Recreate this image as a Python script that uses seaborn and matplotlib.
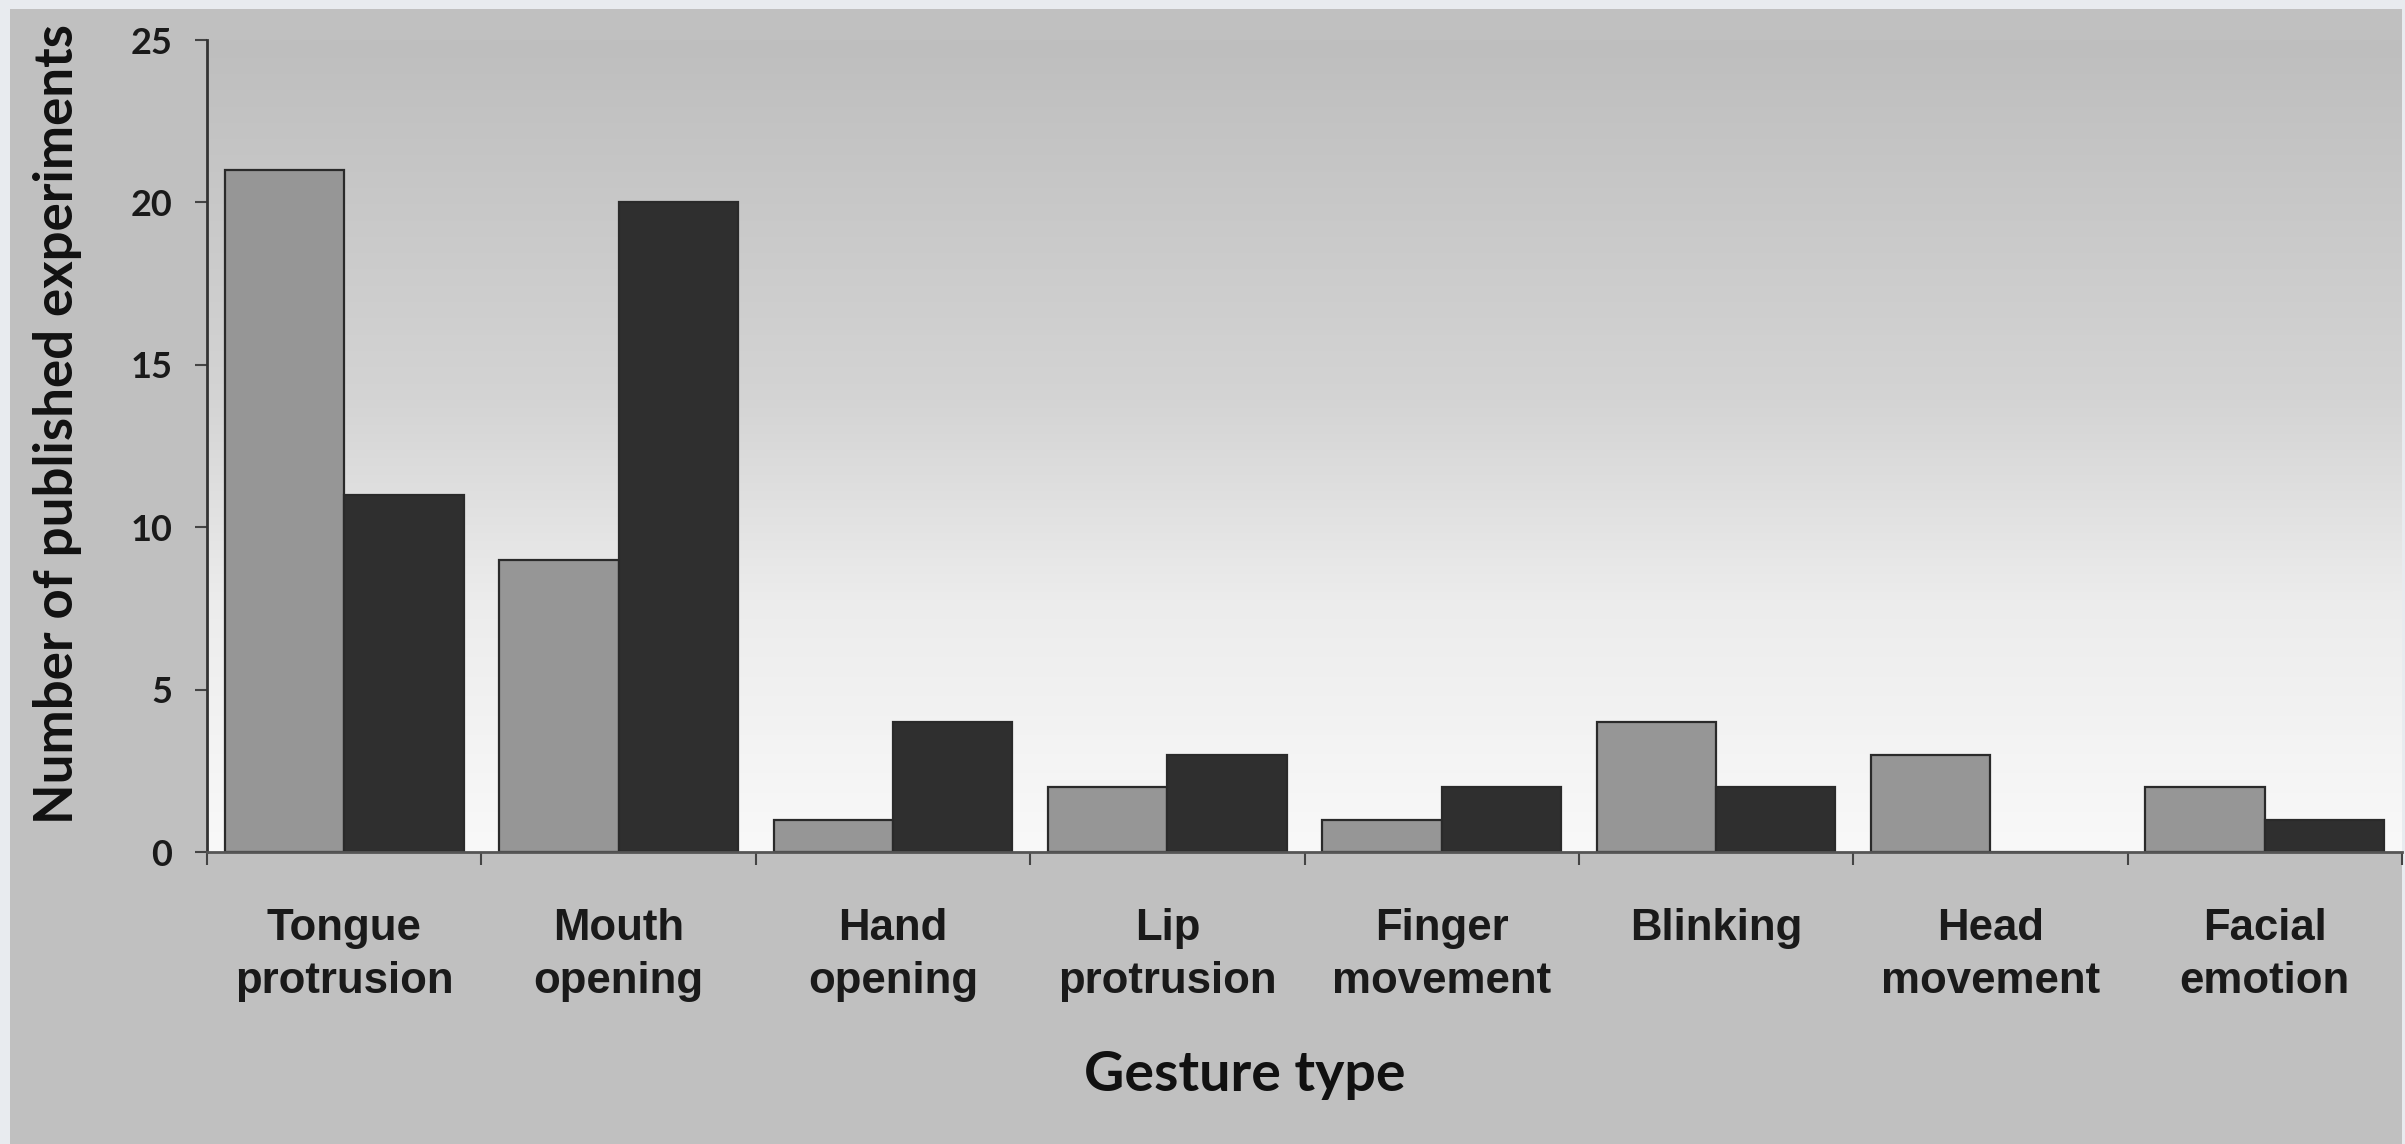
import numpy as np
import pandas as pd
import matplotlib
matplotlib.use("Agg")
import matplotlib.pyplot as plt
from matplotlib.patches import Rectangle
import seaborn as sns

# values
gestures = ["Tongue\nprotrusion", "Mouth\nopening", "Hand\nopening", "Lip\nprotrusion",
            "Finger\nmovement", "Blinking", "Head\nmovement", "Facial\nemotion"]
light_counts = [21, 9, 1, 2, 1, 4, 3, 2]
dark_counts = [11, 20, 4, 3, 2, 2, 0, 1]
series_names = ["series A", "series B"]
y_ticks = [0, 5, 10, 15, 20, 25]

df = pd.DataFrame({
    "gesture": gestures * 2,
    "count": light_counts + dark_counts,
    "series": [series_names[0]] * len(gestures) + [series_names[1]] * len(gestures),
})

W, H = 2405, 1144
fig = plt.figure(figsize=(W / 100, H / 100), dpi=100)
fig.patch.set_facecolor("#e8ebef")
fig.add_artist(Rectangle((10 / W, 0), (2402 - 10) / W, (H - 9) / H,
                         transform=fig.transFigure, facecolor="#c0c0c0",
                         edgecolor="none", zorder=0))

ax = fig.add_axes([207 / W, 292 / H, 2195 / W, 812 / H])
ax.set_facecolor("none")

# vertical gradient of the plot area
rows = np.linspace(40, 852, 400)
shade = np.interp(rows, [40, 400, 600, 852], [190, 212, 236, 249]) / 255
grad = np.repeat(shade[:, None, None], 3, axis=2)
ax.imshow(grad, extent=[0, 1, 0, 1], transform=ax.transAxes, aspect="auto", zorder=0)

sns.barplot(data=df, x="gesture", y="count", hue="series",
            palette=["#969696", "#2f2f2f"], width=0.87,
            edgecolor="#2a2a2a", linewidth=1.6, legend=False, ax=ax)

ax.set_xlim(-0.5, 7.46)
ax.set_ylim(0, 25)
ax.set_yticks(y_ticks)
ax.set_xticks(range(len(gestures)))
ax.set_xticks(np.arange(-0.5, 8, 1), minor=True)

for s in ["top", "right"]:
    ax.spines[s].set_visible(False)
ax.spines["left"].set_color("#333333")
ax.spines["left"].set_linewidth(2)
ax.spines["bottom"].set_color("#555555")
ax.spines["bottom"].set_linewidth(2)

ax.tick_params(axis="x", which="major", length=0, pad=40)
ax.tick_params(axis="x", which="minor", length=9, width=1.5, color="#444444")
ax.tick_params(axis="y", length=9, width=1.5, color="#444444", pad=16)

for lab in ax.get_xticklabels():
    lab.set_fontfamily("Liberation Sans")
    lab.set_fontweight("bold")
    lab.set_fontsize(31.5)
    lab.set_linespacing(1.4)
    lab.set_color("#1a1a1a")
for lab in ax.get_yticklabels():
    lab.set_fontfamily("Lato")
    lab.set_fontweight("bold")
    lab.set_fontsize(26)
    lab.set_color("#1a1a1a")

ax.set_ylabel("Number of published experiments", fontfamily="Lato",
              fontweight="bold", fontsize=38, color="#111111")
ax.yaxis.set_label_coords(-0.057, 0.527)
ax.set_xlabel("Gesture type", fontfamily="Lato", fontweight="bold",
              fontsize=40, color="#111111")
ax.xaxis.set_label_coords(0.473, -0.275)
ax.xaxis.label.set_va("center")

fig.savefig("out.png", dpi=100, facecolor=fig.get_facecolor())
